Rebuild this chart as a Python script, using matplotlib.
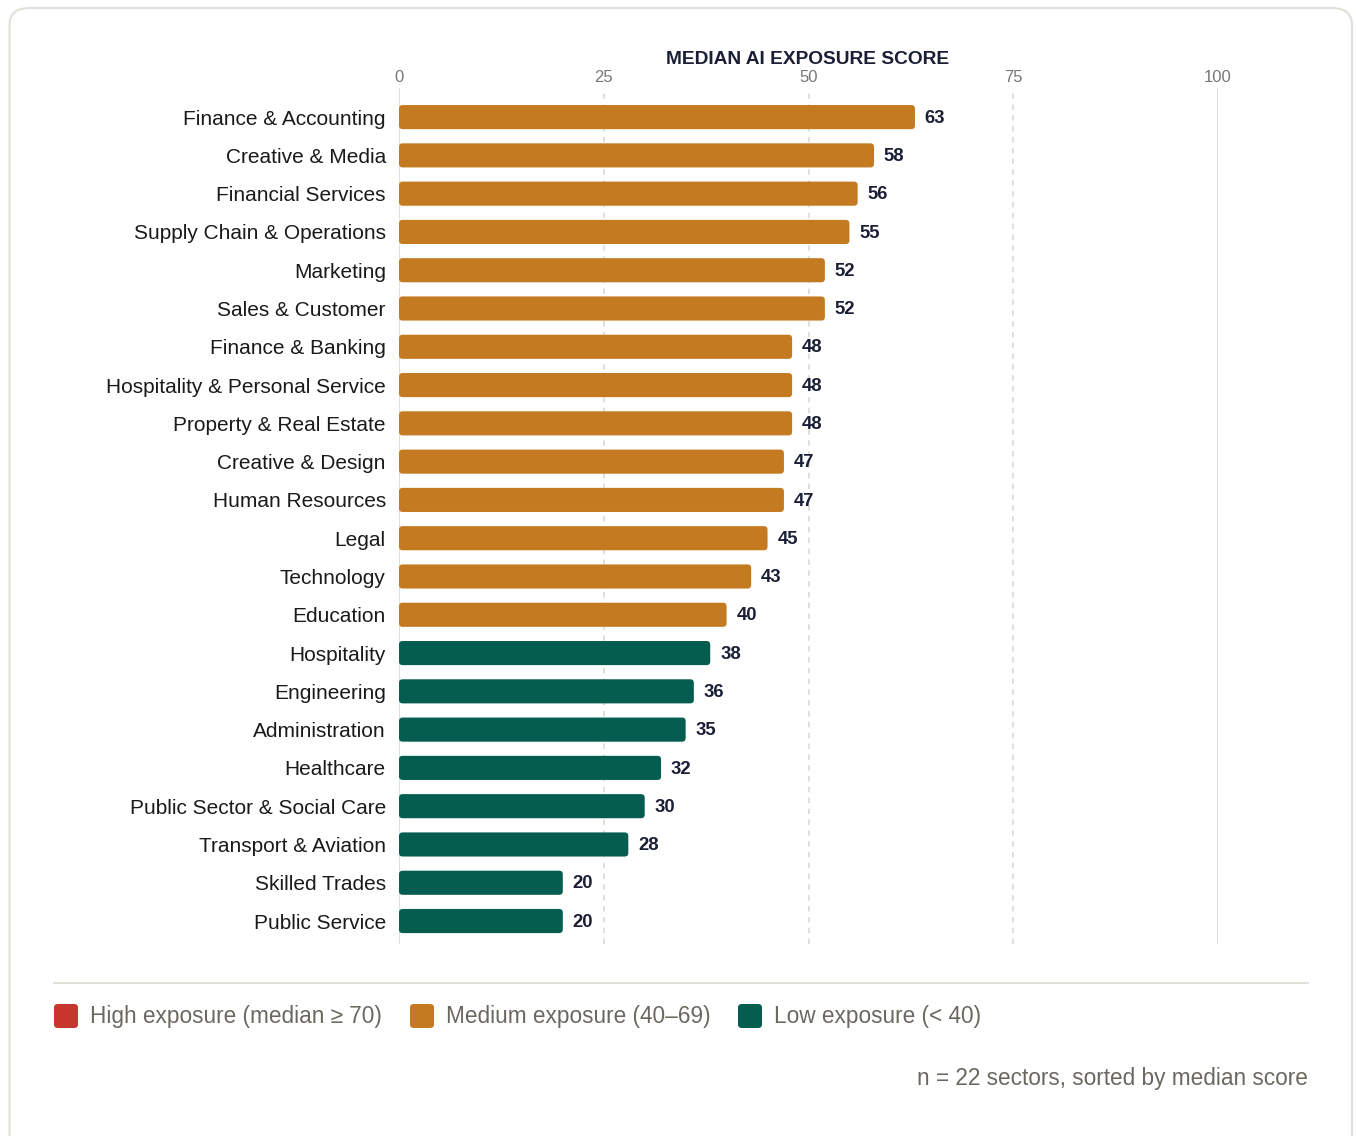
import matplotlib
matplotlib.use("Agg")
import matplotlib.pyplot as plt
from matplotlib.patches import FancyBboxPatch
import numpy as np

plt.rcParams['font.family'] = ['Liberation Sans', 'DejaVu Sans']

sectors = ["Finance & Accounting", "Creative & Media", "Financial Services",
           "Supply Chain & Operations", "Marketing", "Sales & Customer",
           "Finance & Banking", "Hospitality & Personal Service",
           "Property & Real Estate", "Creative & Design", "Human Resources",
           "Legal", "Technology", "Education", "Hospitality", "Engineering",
           "Administration", "Healthcare", "Public Sector & Social Care",
           "Transport & Aviation", "Skilled Trades", "Public Service"]
scores = [63, 58, 56, 55, 52, 52, 48, 48, 48, 47, 47, 45, 43, 40,
          38, 36, 35, 32, 30, 28, 20, 20]
xticks = [0, 25, 50, 75, 100]
legend_labels = ["High exposure (median \u2265 70)", "Medium exposure (40\u201369)",
                 "Low exposure (< 40)"]
title = "MEDIAN AI EXPOSURE SCORE"
note = "n = 22 sectors, sorted by median score"

HIGH = "#C8372D"
MED = "#C47A20"
LOW = "#045D4F"
legend_colors = [HIGH, MED, LOW]

def color_for(v):
    if v >= 70:
        return HIGH
    if v >= 40:
        return MED
    return LOW

W, H = 1356, 1136
fig = plt.figure(figsize=(W / 100, H / 100), dpi=100)
fig.patch.set_facecolor("white")

# card border
card = FancyBboxPatch((9.5 / W, -20 / H), (1352 - 9.5) / W, (1128 + 20) / H,
                      boxstyle="round,pad=0,rounding_size=0.015",
                      transform=fig.transFigure, facecolor="none",
                      edgecolor="#E0E0DA", linewidth=1.5, zorder=-5)
fig.patches.append(card)

# axes: x 399..1218, y 88..944 (pixels from top)
ax_l, ax_r, ax_t, ax_b = 399, 1218, 88, 944
ax = fig.add_axes([ax_l / W, 1 - ax_b / H, (ax_r - ax_l) / W, (ax_b - ax_t) / H])
ax.set_facecolor("none")

y = np.arange(len(sectors))
colors = [color_for(v) for v in scores]
bar_h = 0.63
bars = ax.barh(y, scores, height=bar_h, color="none", edgecolor="none")
for b, c in zip(bars, colors):
    x0, y0 = b.get_x(), b.get_y()
    w, h = b.get_width(), b.get_height()
    p = FancyBboxPatch((x0, y0), w, h,
                       boxstyle="round,pad=0,rounding_size=0.45",
                       mutation_aspect=0.21,
                       facecolor=c, edgecolor="none", zorder=3)
    ax.add_patch(p)

for yi, v in zip(y, scores):
    ax.text(v + 1.2, yi + 0.03, str(v), va="center", ha="left", fontsize=13.3,
            fontweight="bold", color="#1A1F36", zorder=4)

ax.set_xlim(0, 100)
ax.set_ylim(len(sectors) - 1 + 0.6, -0.76)
ax.set_yticks(y)
ax.set_yticklabels(sectors, fontsize=15, color="#1A1A1A")
ax.tick_params(axis="y", length=0, pad=9.5)
ax.xaxis.tick_top()
ax.set_xticks(xticks)
ax.set_xticklabels([str(t) for t in xticks], fontsize=12, color="#777777")
ax.tick_params(axis="x", length=0, pad=2.5)
for s in ax.spines.values():
    s.set_visible(False)

for t in xticks:
    if t in (0, 100):
        ax.axvline(t, color="#DDDDD8", lw=1.3, zorder=1)
    else:
        ax.axvline(t, color="#DDDDD8", lw=1.3, ls=(0, (3, 3)), zorder=1)

fig.text(808 / W, 1 - 59 / H, title, ha="center", va="center", fontsize=13.8,
         fontweight="bold", color="#1A1F36")

# separator
fig.add_artist(plt.Line2D([54 / W, 1308 / W], [1 - 983 / H, 1 - 983 / H],
                          color="#DDDDD8", lw=1.3))

# legend
leg_x = [54, 410, 738]
for lx, lab, c in zip(leg_x, legend_labels, legend_colors):
    sq = FancyBboxPatch((lx / W, 1 - 1028 / H), 24 / W, 24 / H,
                        boxstyle="round,pad=0,rounding_size=0.003",
                        transform=fig.transFigure, facecolor=c, edgecolor="none")
    fig.patches.append(sq)
    fig.text((lx + 36) / W, 1 - 1017 / H, lab, ha="left", va="center",
             fontsize=16.3, color="#6B6860")

fig.text(1308 / W, 1 - 1079 / H, note, ha="right", va="center", fontsize=16.3,
         color="#6B6860")

fig.savefig("out.png", dpi=100, facecolor="white")
